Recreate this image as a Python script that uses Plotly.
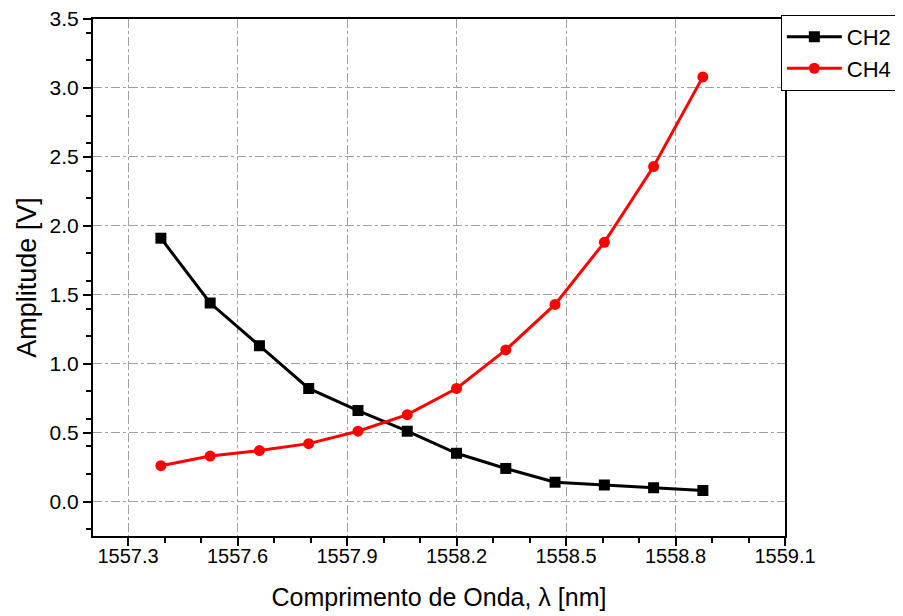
import plotly.graph_objects as go

wavelength = [1557.39, 1557.525, 1557.66, 1557.795, 1557.93, 1558.065,
              1558.2, 1558.335, 1558.47, 1558.605, 1558.74, 1558.875]
ch2 = [1.91, 1.44, 1.13, 0.82, 0.66, 0.51, 0.35, 0.24, 0.14, 0.12, 0.10, 0.08]
ch4 = [0.26, 0.33, 0.37, 0.42, 0.51, 0.63, 0.82, 1.10, 1.43, 1.88, 2.43, 3.08]

x_ticks = [1557.3, 1557.6, 1557.9, 1558.2, 1558.5, 1558.8, 1559.1]
y_ticks = [0.0, 0.5, 1.0, 1.5, 2.0, 2.5, 3.0, 3.5]

FONT = "Liberation Sans, Arial"

fig = go.Figure()
fig.add_trace(go.Scatter(x=wavelength, y=ch2, name="CH2", mode="lines+markers",
                         line=dict(color="black", width=3),
                         marker=dict(symbol="square", size=11, color="black")))
fig.add_trace(go.Scatter(x=wavelength, y=ch4, name="CH4", mode="lines+markers",
                         line=dict(color="#ff0000", width=3),
                         marker=dict(symbol="circle", size=11, color="#ff0000")))

axis_common = dict(showline=True, linecolor="black", linewidth=2, mirror=True,
                   ticks="outside", ticklen=8, tickwidth=2, tickcolor="black",
                   showgrid=True, gridcolor="#a0a0a0", griddash="dashdot", gridwidth=1,
                   zeroline=False, automargin=False, ticklabeloverflow="allow",
                   minor=dict(ticks="outside", ticklen=5, tickwidth=2, tickcolor="black", showgrid=False))

fig.update_xaxes(range=[1557.204, 1559.1], tickvals=x_ticks,
                 ticktext=[f"{v:.1f}" for v in x_ticks],
                 tickfont=dict(family=FONT, size=20, color="black"),
                 ticklabelstandoff=-7,
                 title=dict(text="Comprimento de Onda, λ [nm]",
                            font=dict(family=FONT, size=25, color="black"),
                            standoff=22),
                 **axis_common)
fig.update_yaxes(range=[-0.25, 3.5], tickvals=y_ticks,
                 ticktext=[f"{v:.1f}" for v in y_ticks],
                 tickfont=dict(family=FONT, size=21, color="black"),
                 title=dict(text="Amplitude [V]",
                            font=dict(family=FONT, size=27, color="black"),
                            standoff=5),
                 **axis_common)

# the page body adds an 8px offset, so the figure is sized and margined to compensate
fig.update_layout(width=895, height=608,
                  margin=dict(l=85, r=118, t=11, b=80, autoexpand=False),
                  plot_bgcolor="white", paper_bgcolor="white",
                  font=dict(family=FONT, color="black"),
                  legend=dict(x=0.994, y=1.008, xanchor="left", yanchor="top",
                              bordercolor="black", borderwidth=1,
                              font=dict(family=FONT, size=22, color="black"),
                              bgcolor="white", tracegroupgap=0, itemwidth=55))

fig.write_html("out.html")
